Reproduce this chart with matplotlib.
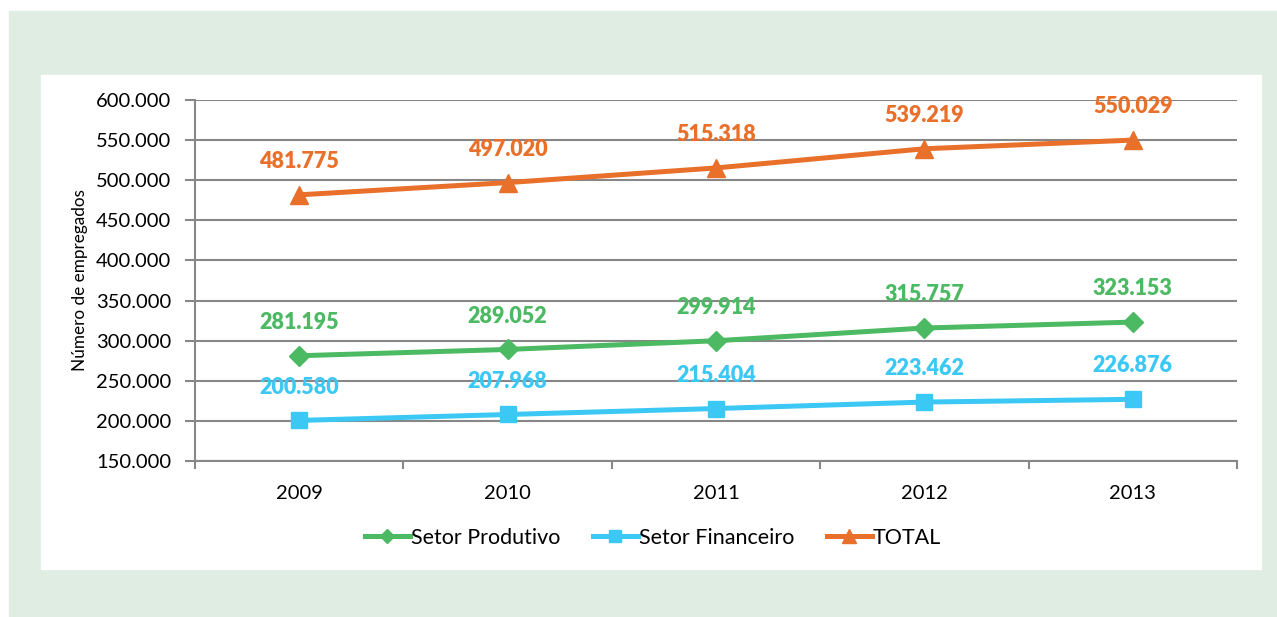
import matplotlib.pyplot as plt
from matplotlib.patches import Rectangle
from matplotlib.ticker import FuncFormatter

# data
anos = ["2009", "2010", "2011", "2012", "2013"]
produtivo = [281195, 289052, 299914, 315757, 323153]
financeiro = [200580, 207968, 215404, 223462, 226876]
total = [481775, 497020, 515318, 539219, 550029]

verde = "#4CB963"
azul = "#3CC8F4"
laranja = "#E8702A"
cinza = "#878787"


def fmt(v, pos=None):
    return f"{int(v):,}".replace(",", ".")


plt.rcParams['font.family'] = ['Lato', 'DejaVu Sans']

W, H = 1277, 617
fig = plt.figure(figsize=(W / 100, H / 100), dpi=100)
fig.patch.set_facecolor("white")

# background panels (pixel coords -> figure fraction)
fig.patches.append(Rectangle((9 / W, 0), 1 - 9 / W, 1 - 11 / H,
                             transform=fig.transFigure, color="#DFEDE3", zorder=-2))
fig.patches.append(Rectangle((41 / W, 1 - 569 / H), (1261 - 41) / W, (569 - 75) / H,
                             transform=fig.transFigure, color="white", zorder=-1))

ax = fig.add_axes([195 / W, 1 - 461 / H, (1237 - 195) / W, (461 - 100) / H])
ax.set_facecolor("none")

x = list(range(len(anos)))
ax.plot(x, produtivo, color=verde, lw=3.6, marker="D", ms=10, label="Setor Produtivo", zorder=3)
ax.plot(x, financeiro, color=azul, lw=3.6, marker="s", ms=11, label="Setor Financeiro", zorder=3)
ax.plot(x, total, color=laranja, lw=3.6, marker="^", ms=13, label="TOTAL", zorder=3)

for serie, cor in [(produtivo, verde), (financeiro, azul), (total, laranja)]:
    for xi, v in zip(x, serie):
        ax.annotate(fmt(v), (xi, v), xytext=(0, 24), textcoords="offset points",
                    ha="center", va="center", color=cor, fontsize=15.5, fontweight="heavy")

ax.set_xlim(-0.5, 4.5)
ax.set_ylim(150000, 600000)
ax.set_yticks(range(150000, 600001, 50000))
ax.yaxis.set_major_formatter(FuncFormatter(fmt))
ax.set_xticks([i - 0.5 for i in range(len(anos) + 1)])
ax.set_xticklabels([])
ax.set_xticks(x, minor=True)
ax.set_xticklabels(anos, minor=True)
ax.tick_params(axis="x", which="minor", length=0, pad=17, labelsize=14.5)
ax.tick_params(axis="x", which="major", length=6, width=1.5, color=cinza, direction="out")
ax.tick_params(axis="y", length=7, width=1.5, color=cinza, labelsize=14.5, pad=10)

ax.grid(axis="y", color=cinza, lw=1.5, zorder=0)
ax.set_axisbelow(True)
for s in ["top", "right"]:
    ax.spines[s].set_visible(False)
for s in ["left", "bottom"]:
    ax.spines[s].set_color(cinza)
    ax.spines[s].set_linewidth(1.5)

ax.set_ylabel("Número de empregados", fontsize=12.3, labelpad=6)

leg = fig.legend(loc="center", bbox_to_anchor=(653 / W, 1 - 538 / H), ncol=3,
                 frameon=False, fontsize=15.5, handlelength=2.1, handletextpad=0.05,
                 columnspacing=1.5, markerscale=0.75)

fig.savefig("out.png", dpi=100)
